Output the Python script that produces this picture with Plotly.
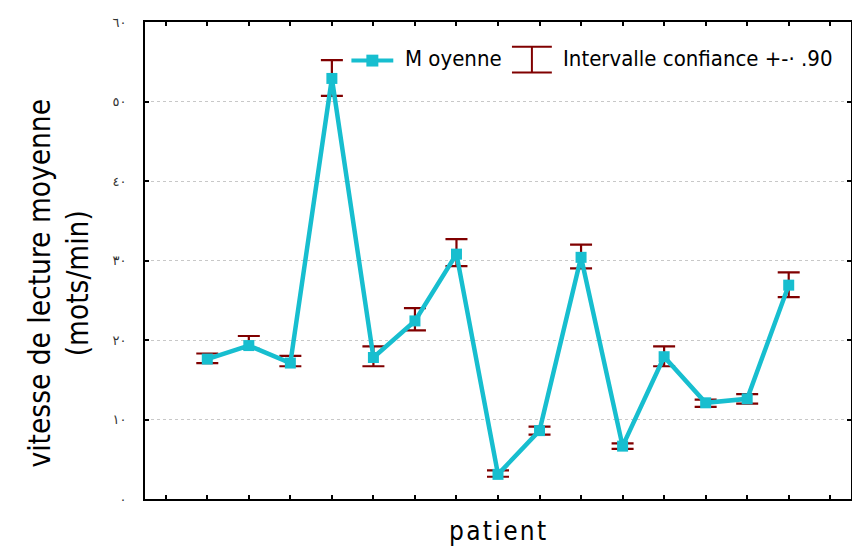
import plotly.graph_objects as go

# ---- data ----
patients = list(range(1, 16))
moyenne = [17.6, 19.3, 17.1, 52.9, 17.8, 22.4, 30.8, 3.1, 8.6, 30.4, 6.65, 17.9, 12.1, 12.6, 26.9]
ic_haut = [18.3, 20.5, 18.0, 55.2, 19.2, 24.0, 32.7, 3.6, 9.1, 32.0, 7.0, 19.2, 12.5, 13.2, 28.5]
ic_bas = [17.1, 18.9, 16.7, 50.7, 16.7, 21.2, 29.3, 2.8, 8.1, 29.0, 6.3, 16.7, 11.6, 12.0, 25.4]
y_ticks = [0, 10, 20, 30, 40, 50, 60]
y_ticktext = ["٠", "١٠", "٢٠", "٣٠", "٤٠", "٥٠", "٦٠"]
x_ticks = list(range(0, 17))

CYAN = "#17becf"
RED = "#800000"
FONT = "DejaVu Sans Condensed, DejaVu Sans"

# page body has an 8px default margin
OFF = 8
W, H = 860 - OFF, 552 - OFF
ML, MR, MT, MB = 145 - OFF, 7, 17 - OFF, 53
PW, PH = W - ML - MR, H - MT - MB


def px(x):  # page pixel -> paper
    return (x - OFF - ML) / PW


def py(y):
    return (H - MB - (y - OFF)) / PH


err_plus = [h - m for h, m in zip(ic_haut, moyenne)]
err_minus = [m - b for m, b in zip(moyenne, ic_bas)]

fig = go.Figure()
fig.add_trace(go.Scatter(
    x=patients, y=moyenne, mode="lines+markers", name="Moyenne",
    line=dict(color=CYAN, width=4.5),
    marker=dict(symbol="square", size=11, color=CYAN),
    error_y=dict(type="data", array=err_plus, arrayminus=err_minus,
                 color=RED, thickness=2.2, width=11),
    showlegend=False,
))

fig.update_layout(
    width=W, height=H,
    margin=dict(l=ML, r=MR, t=MT, b=MB),
    paper_bgcolor="white", plot_bgcolor="white",
    font=dict(family=FONT, color="black"),
    xaxis=dict(range=[-0.5, 16.5], tickvals=x_ticks, showticklabels=False,
               ticks="inside", ticklen=4, tickwidth=2, tickcolor="black",
               showline=True, linewidth=2, linecolor="black", mirror="ticks",
               showgrid=False, zeroline=False),
    yaxis=dict(range=[0, 60], tickvals=y_ticks, ticktext=y_ticktext,
               ticks="inside", ticklen=4, tickwidth=2, tickcolor="black",
               tickfont=dict(size=13, family="DejaVu Sans", color="#333"),
               ticklabelstandoff=14,
               showline=True, linewidth=2, linecolor="black", mirror="ticks",
               showgrid=True, gridcolor="#c8c8c8", gridwidth=1, griddash="dot",
               zeroline=False),
)

# axis titles
fig.add_annotation(xref="paper", yref="paper", x=px(59), y=py(281),
                   text="vitesse de lecture moyenne<br>(mots/min)",
                   textangle=-90, showarrow=False, xanchor="center", yanchor="middle",
                   font=dict(size=29.5, family=FONT, color="black"))
TS = "\u200a"
fig.add_annotation(xref="paper", yref="paper", x=px(498), y=py(531),
                   text=TS.join("patient"), showarrow=False,
                   xanchor="center", yanchor="middle",
                   font=dict(size=26, family=FONT, color="black"))

# custom legend
ly = 56
fig.add_shape(type="line", xref="paper", yref="paper",
              x0=px(352), x1=px(394), y0=py(ly), y1=py(ly),
              line=dict(color=CYAN, width=4))
fig.add_shape(type="rect", xref="paper", yref="paper",
              x0=px(367), x1=px(379), y0=py(ly - 6), y1=py(ly + 6),
              line=dict(width=0), fillcolor=CYAN)
fig.add_annotation(xref="paper", yref="paper", x=px(404), y=py(54),
                   text="M oyenne", showarrow=False, xanchor="left", yanchor="middle",
                   font=dict(size=22, family=FONT, color="black"))
for yy in (42, 68):
    fig.add_shape(type="line", xref="paper", yref="paper",
                  x0=px(513), x1=px(553), y0=py(yy), y1=py(yy),
                  line=dict(color=RED, width=2))
fig.add_shape(type="line", xref="paper", yref="paper",
              x0=px(533), x1=px(533), y0=py(42), y1=py(68),
              line=dict(color=RED, width=2))
fig.add_annotation(xref="paper", yref="paper", x=px(562), y=py(54),
                   text="Intervalle confiance +-· .90", showarrow=False,
                   xanchor="left", yanchor="middle",
                   font=dict(size=22, family=FONT, color="black"))

fig.write_html("out.html")
